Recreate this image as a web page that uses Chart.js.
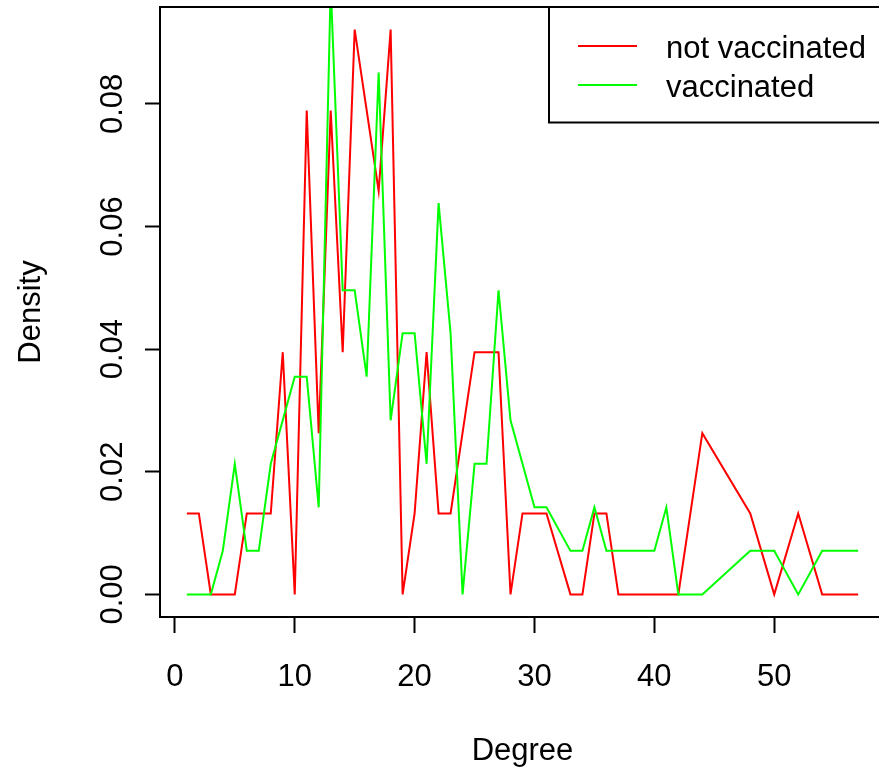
<!DOCTYPE html>
<html>
<head>
<meta charset="utf-8">
<script src="https://cdn.jsdelivr.net/npm/chart.js@4"></script>
<style>
  html, body { margin: 0; padding: 0; background: #fff; overflow: hidden; }
  #wrap { width: 879px; height: 770px; overflow: hidden; }
</style>
</head>
<body>
<div id="wrap"><canvas id="chart" width="900" height="770"></canvas></div>
<script>
// ===== Data =====
const degNotVacc = [1, 2, 3, 4, 5, 6, 7, 8, 9, 10, 11, 12, 13, 14, 15, 17, 18, 19, 20, 21,
  22, 23, 25, 26, 27, 28, 29, 30, 31, 33, 34, 35, 36, 37, 42, 44, 48, 50, 52, 54, 57];
const densNotVacc = [0.0132, 0.0132, 0, 0, 0, 0.0132, 0.0132, 0.0132, 0.0395, 0, 0.0789, 0.0263, 0.0789, 0.0395, 0.0921, 0.0658, 0.0921, 0, 0.0132, 0.0395,
  0.0132, 0.0132, 0.0395, 0.0395, 0.0395, 0, 0.0132, 0.0132, 0.0132, 0, 0, 0.0132, 0.0132, 0, 0, 0.0263, 0.0132, 0, 0.0132, 0, 0];

const degVacc = [1, 3, 4, 5, 6, 7, 8, 10, 11, 12, 13, 14, 15, 16, 17, 18, 19, 20, 21, 22,
  23, 24, 25, 26, 27, 28, 30, 31, 33, 34, 35, 36, 40, 41, 42, 44, 48, 50, 52, 54, 57];
const densVacc = [0, 0, 0.0071, 0.0213, 0.0071, 0.0071, 0.0213, 0.0355, 0.0355, 0.0142, 0.0993, 0.0496, 0.0496, 0.0355, 0.0851, 0.0284, 0.0426, 0.0426, 0.0213, 0.0638,
  0.0426, 0, 0.0213, 0.0213, 0.0496, 0.0284, 0.0142, 0.0142, 0.0071, 0.0071, 0.0142, 0.0071, 0.0071, 0.0142, 0, 0, 0.0071, 0.0071, 0, 0.0071, 0.0071];

const xTicks = [0, 10, 20, 30, 40, 50];
const yTicks = [0, 0.02, 0.04, 0.06, 0.08];
const seriesNames = ['not vaccinated', 'vaccinated'];
const seriesColors = ['#ff0000', '#00ff00'];

const FONT = '"Liberation Sans", Arial, sans-serif';
const toXY = (xs, ys) => xs.map((x, i) => ({ x, y: ys[i] }));

// ===== Frame, rotated y labels and legend box (R style) =====
const rStyle = {
  id: 'rStyle',
  afterDraw(chart) {
    const { ctx, chartArea: a, scales } = chart;
    ctx.save();
    ctx.strokeStyle = '#000';
    ctx.lineWidth = 2;
    ctx.strokeRect(a.left, a.top, a.right - a.left, a.bottom - a.top);

    // y tick labels, rotated like las=0
    ctx.fillStyle = '#000';
    ctx.font = '31px ' + FONT;
    ctx.textAlign = 'center';
    ctx.textBaseline = 'middle';
    yTicks.forEach(v => {
      const y = scales.y.getPixelForValue(v);
      ctx.save();
      ctx.translate(113, y);
      ctx.rotate(-Math.PI / 2);
      ctx.fillText(v.toFixed(2), 0, 0);
      ctx.restore();
    });

    // legend, top right inside the plot
    const lx = 549, ly = a.top, lh = 122.5 - a.top;
    ctx.fillStyle = '#fff';
    ctx.fillRect(lx, ly, a.right - lx, lh);
    ctx.strokeRect(lx, ly, a.right - lx, lh);
    ctx.textAlign = 'left';
    seriesNames.forEach((name, i) => {
      const y = 46 + i * 39;
      ctx.strokeStyle = seriesColors[i];
      ctx.beginPath();
      ctx.moveTo(578, y);
      ctx.lineTo(637, y);
      ctx.stroke();
      ctx.fillStyle = '#000';
      ctx.fillText(name, 666, y + 3);
    });
    ctx.restore();
  }
};

new Chart(document.getElementById('chart'), {
  type: 'line',
  data: {
    datasets: [
      {
        label: seriesNames[0],
        data: toXY(degNotVacc, densNotVacc),
        borderColor: seriesColors[0],
        borderWidth: 2,
        pointRadius: 0,
        tension: 0,
        order: 1,
      },
      {
        label: seriesNames[1],
        data: toXY(degVacc, densVacc),
        borderColor: seriesColors[1],
        borderWidth: 2,
        pointRadius: 0,
        tension: 0,
        order: 0,
      },
    ],
  },
  options: {
    responsive: false,
    animation: false,
    events: [],
    layout: { padding: { left: 0, top: 7, right: 15, bottom: 0 } },
    plugins: { legend: { display: false }, tooltip: { enabled: false } },
    scales: {
      x: {
        type: 'linear',
        min: -1.24,
        max: 59.24,
        afterFit: s => { s.height = 153; },
        afterBuildTicks: s => { s.ticks = xTicks.map(v => ({ value: v })); },
        ticks: { color: '#000', font: { family: FONT, size: 31 }, padding: 26, maxRotation: 0, autoSkip: false },
        grid: { drawOnChartArea: false, drawTicks: true, tickLength: 16, tickColor: '#000', tickWidth: 2 },
        border: { display: true, color: '#000', width: 2 },
        title: { display: true, text: 'Degree', color: '#000', font: { family: FONT, size: 31 }, padding: { top: 0, bottom: 0 } },
      },
      y: {
        type: 'linear',
        min: -0.003684,
        max: 0.09579,
        afterFit: s => { s.width = 160; },
        afterBuildTicks: s => { s.ticks = yTicks.map(v => ({ value: v })); },
        ticks: { display: false },
        grid: { drawOnChartArea: false, drawTicks: true, tickLength: 15, tickColor: '#000', tickWidth: 2 },
        border: { display: true, color: '#000', width: 2 },
        title: { display: true, text: 'Density', color: '#000', font: { family: FONT, size: 31 }, padding: { top: 13, bottom: 0 } },
      },
    },
  },
  plugins: [rStyle],
});
</script>
</body>
</html>
